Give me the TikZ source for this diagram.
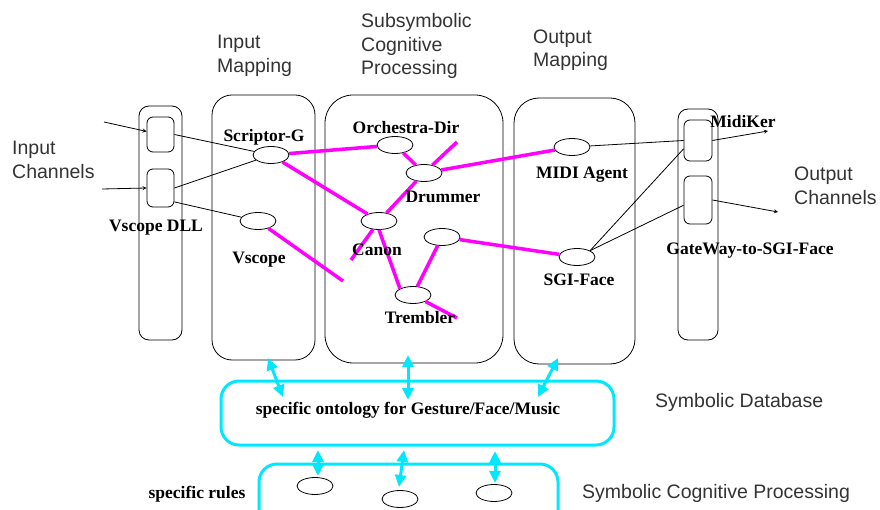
\documentclass[tikz,border=0pt]{standalone}
\usepackage{fontspec}
\setmainfont{Liberation Serif}
\setsansfont{Liberation Sans}
\usetikzlibrary{shapes.geometric,arrows.meta}
\definecolor{mline}{RGB}{255,0,255}
\definecolor{cline}{RGB}{0,232,255}

\begin{document}
\begin{tikzpicture}[
    x=1pt, y=-1pt,
    lbl/.style={font=\fontsize{17.5}{20}\selectfont\bfseries, inner sep=0pt},
    head/.style={font=\sffamily\fontsize{19.5}{23.5}\selectfont, text=black!80,
                 align=left, inner sep=0pt, anchor=west},
    box/.style={draw, rounded corners=#1, inner sep=0pt, line width=0.8pt},
    port/.style={draw, rounded corners=6pt, minimum width=28pt, inner sep=0pt, line width=0.8pt},
    agent/.style={draw, fill=white, ellipse, minimum width=36pt, minimum height=17pt,
                  inner sep=0pt, line width=0.8pt},
    wire/.style={line width=0.8pt},
    link/.style={mline, line width=3.5pt},
    sym/.style={cline, line width=3pt, {Triangle[length=12pt,width=11pt]}-{Triangle[length=12pt,width=11pt]}}
]
    \useasboundingbox (0,0) rectangle (880,510);

    \node [head] (hIM) at (217,56) {Input\\Mapping};
    \node [head] (hSS) at (361,46) {Subsymbolic\\Cognitive\\Processing};
    \node [head] (hOM) at (533,50) {Output\\Mapping};
    \node [head] (hIC) at (12,160) {Input\\Channels};
    \node [head] (hOC) at (794,186) {Output\\Channels};
    \node [head] (hSD) at (655,402) {Symbolic Database};
    \node [head] (hSC) at (582,493) {Symbolic Cognitive Processing};

    \node [box=10pt, minimum width=43pt, minimum height=234pt] (dll) at (160.5,223) {};
    \node [box=20pt, minimum width=103pt, minimum height=265pt] (im) at (263.5,227.5) {};
    \node [box=28pt, minimum width=178pt, minimum height=268pt] (ss) at (414,229) {};
    \node [box=25pt, minimum width=121pt, minimum height=266pt] (om) at (574.5,231) {};
    \node [box=10pt, minimum width=40pt, minimum height=231pt] (gw) at (698,224.5) {};

    \node [port, minimum width=27pt, minimum height=35pt] (b1) at (160.5,134.5) {};
    \node [port, minimum width=27pt, minimum height=38pt] (b2) at (160.5,188) {};
    \node [port, minimum height=41pt] (g1) at (698,140.5) {};
    \node [port, minimum height=48pt] (g2) at (698,200) {};

    \node [box=18pt, draw=cline, line width=3pt, minimum width=393pt, minimum height=64pt] (db) at (417.5,413) {};
    \node [box=18pt, draw=cline, line width=3pt, minimum width=299pt, minimum height=70pt] (sr) at (408.5,499) {};

    \coordinate (in1) at (104,122);
    \coordinate (in2) at (102,189);
    \coordinate (out1) at (768,131);
    \coordinate (out2) at (778,212);
    \coordinate (v1) at (343,281);
    \coordinate (d1) at (457,142);
    \coordinate (c1) at (351,260);
    \coordinate (t1) at (457,318);

    \node [agent] (sg) at (271,155) {};
    \node [agent] (vs) at (258,221) {};
    \node [agent] (od) at (395,145) {};
    \node [agent] (dr) at (424,173) {};
    \node [agent] (ca) at (379,221) {};
    \node [agent] (un) at (442,237) {};
    \node [agent] (tr) at (413,295) {};
    \node [agent] (md) at (572,147) {};
    \node [agent] (sf) at (577,257) {};
    \node [agent] (r1) at (315,486) {};
    \node [agent] (r2) at (400,499) {};
    \node [agent] (r3) at (494,493) {};

    \draw [wire, -stealth] (in1) -- (b1);
    \draw [wire, -stealth] (in2) -- (b2.west);
    \draw [wire] (b1.east) -- (sg);
    \draw [wire] (b2.east) -- (sg);
    \draw [wire] (b2.-45) -- (vs);
    \draw [wire] (md) -- (g1.west);
    \draw [wire] (sf.north east) -- (g1.210);
    \draw [wire] (sf) -- (g2.200);
    \draw [wire, -stealth] (g1.east) -- (out1);
    \draw [wire, -stealth] (g2.east) -- (out2);

    \draw [link] (sg) -- (od);
    \draw [link] (sg) -- (ca);
    \draw [link] (vs) -- (v1);
    \draw [link] (od) -- (dr);
    \draw [link] (dr) -- (d1);
    \draw [link] (dr) -- (md);
    \draw [link] (dr) -- (ca);
    \draw [link] (ca) -- (c1);
    \draw [link] (ca.south) -- (tr.north west);
    \draw [link] (un) -- (tr);
    \draw [link] (un) -- (sf);
    \draw [link] (tr) -- (t1);

    \draw [sym] (268,358) -- (283,397);
    \draw [sym] (408,355) -- (408,400);
    \draw [sym] (558,358) -- (538,397);
    \draw [sym] (318,450) -- (318,476);
    \draw [sym] (404,450) -- (399,487);
    \draw [sym] (495,451) -- (495,483);

    \node [lbl] (lsg) at (264,137) {Scriptor-G};
    \node [lbl] (ldll) at (156,228) {Vscope DLL};
    \node [lbl] (lvs) at (259,260) {Vscope};
    \node [lbl] (lod) at (406,128) {Orchestra-Dir};
    \node [lbl] (ldr) at (443,197) {Drummer};
    \node [lbl] (lca) at (377,250) {Canon};
    \node [lbl] (ltr) at (420,318) {Trembler};
    \node [lbl] (lmd) at (582,175) {MIDI Agent};
    \node [lbl] (lsf) at (579,280) {SGI-Face};
    \node [lbl] (lmk) at (743,122) {MidiKer};
    \node [lbl] (lgw) at (750,251) {GateWay-to-SGI-Face};
    \node [lbl] (ldb) at (408,410) {specific ontology for Gesture/Face/Music};
    \node [lbl] (lsr) at (197,494) {specific rules};
\end{tikzpicture}
\end{document}
